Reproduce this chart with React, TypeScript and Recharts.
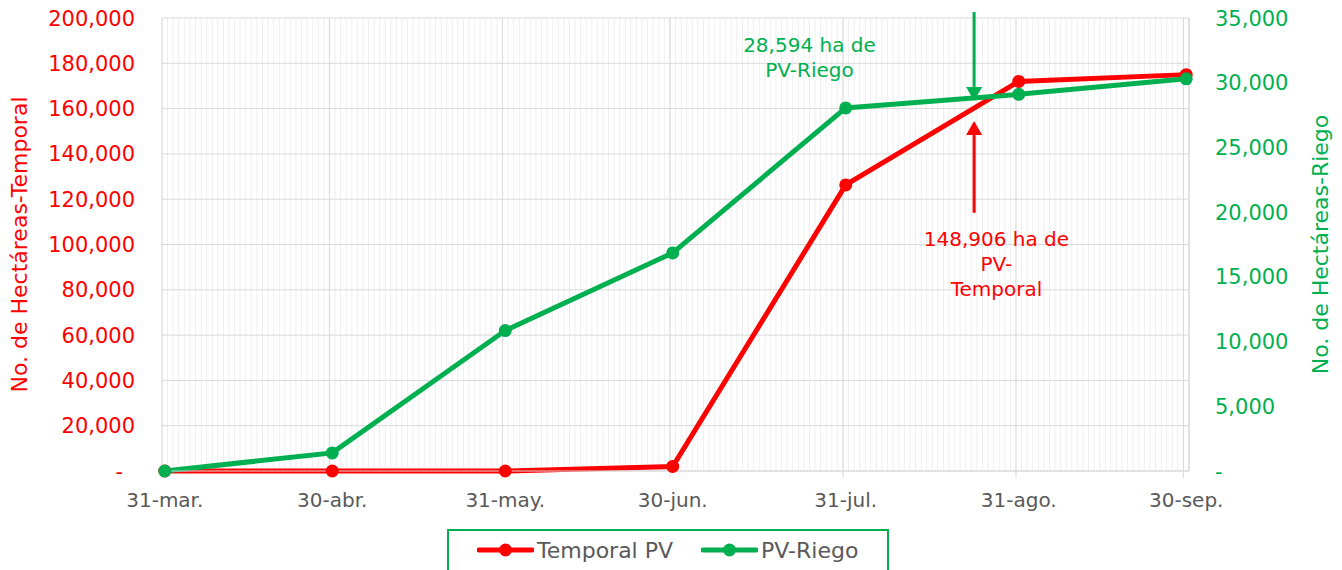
import { LineChart, Line, XAxis, YAxis, CartesianGrid, Legend, ReferenceLine, ReferenceDot } from 'recharts'

// days counted from 31-mar
const dayIdx = [0, 30, 61, 91, 122, 153, 183]
const dateLabels = ['31-mar.', '30-abr.', '31-may.', '30-jun.', '31-jul.', '31-ago.', '30-sep.']
const temporal = [0, 0, 0, 2000, 126300, 172000, 175000]
const riego = [0, 1400, 10850, 16850, 28050, 29100, 30300]

const leftTicks = [0, 20000, 40000, 60000, 80000, 100000, 120000, 140000, 160000, 180000, 200000]
const rightTicks = [0, 5000, 10000, 15000, 20000, 25000, 30000, 35000]

// crossing annotation
const arrowDay = 145
const riegoNote = ['28,594 ha de', 'PV-Riego']
const temporalNote = ['148,906 ha de', 'PV-', 'Temporal']

const RED = '#ff0000'
const GREEN = '#00b050'
const GRAY = '#595959'
const FONT = 'DejaVu Sans'

const data = dayIdx.map((d, i) => ({ day: d, temporal: temporal[i], riego: riego[i] }))
const minorTicks = Array.from({ length: 185 }, (_, i) => i - 0.5)
const majorTicks = dayIdx.map((d) => d - 0.5)

const fmt = (v: number) => (v === 0 ? '-' : v.toLocaleString('en-US'))

function XTick({ x, y, payload }: any) {
  const i = majorTicks.indexOf(payload.value)
  return (
    <text x={x + 2.8} y={y + 27} textAnchor="middle" fill={GRAY} fontSize={20} fontFamily={FONT}>
      {dateLabels[i]}
    </text>
  )
}

function LeftTick({ x, y, payload }: any) {
  return (
    <text x={x - (payload.value === 0 ? 12 : 0)} y={y} dy="0.36em" textAnchor="end" fill={RED} fontSize={21} fontFamily={FONT}>
      {fmt(payload.value)}
    </text>
  )
}

function RightTick({ x, y, payload }: any) {
  return (
    <text x={x} y={y} dy="0.36em" textAnchor="start" fill={GREEN} fontSize={21} fontFamily={FONT}>
      {fmt(payload.value)}
    </text>
  )
}

function axisTitle(text: string, color: string, dx: number) {
  return ({ viewBox }: any) => {
    const cx = viewBox.x + dx
    const cy = viewBox.y + viewBox.height / 2
    return (
      <text x={cx} y={cy} transform={`rotate(-90, ${cx}, ${cy})`} textAnchor="middle" dy="0.36em" fill={color} fontSize={22} fontFamily={FONT}>
        {text}
      </text>
    )
  }
}

function arrow(color: string) {
  return (p: any) => {
    const { x1, y1, x2, y2 } = p
    const dir = y2 > y1 ? 1 : -1
    const head = 14
    return (
      <g>
        <line x1={x1} y1={y1} x2={x2} y2={y2 - dir * head} stroke={color} strokeWidth={3} />
        <polygon points={`${x2 - 8},${y2 - dir * head} ${x2 + 8},${y2 - dir * head} ${x2},${y2}`} fill={color} />
      </g>
    )
  }
}

function note(lines: string[], color: string) {
  return (p: any) => (
    <text x={p.cx} y={p.cy} textAnchor="middle" fill={color} fontSize={20} fontFamily={FONT}>
      {lines.map((l, i) => (
        <tspan key={i} x={p.cx} dy={i === 0 ? 0 : 25}>
          {l}
        </tspan>
      ))}
    </text>
  )
}

function LegendBox() {
  const item = (color: string, label: string) => (
    <div style={{ display: 'flex', alignItems: 'center' }}>
      <svg width={57} height={14}>
        <line x1={2} y1={7} x2={55} y2={7} stroke={color} strokeWidth={5} strokeLinecap="round" />
        <circle cx={28.5} cy={7} r={6.5} fill={color} />
      </svg>
      <span style={{ marginLeft: 3, color: GRAY, fontSize: 22, fontFamily: FONT }}>{label}</span>
    </div>
  )
  return (
    <div
      style={{
        boxSizing: 'border-box',
        width: 442,
        height: 50,
        border: `2px solid ${GREEN}`,
        display: 'flex',
        alignItems: 'center',
        paddingLeft: 28,
        paddingBottom: 8,
        gap: 28,
      }}
    >
      {item(RED, 'Temporal PV')}
      {item(GREEN, 'PV-Riego')}
    </div>
  )
}

export default function App() {
  return (
    <div style={{ width: 1342, height: 570, overflow: 'hidden' }}>
      <style>{`body{margin:0}`}</style>
      <LineChart width={1342} height={570} data={data} margin={{ top: 18, right: 0, bottom: 0, left: 0 }} style={{ fontFamily: FONT }}>
        <XAxis xAxisId="minor" type="number" dataKey="day" domain={[-0.5, 183.5]} ticks={minorTicks} interval={0} hide />
        <XAxis
          xAxisId="main"
          type="number"
          dataKey="day"
          domain={[-0.5, 183.5]}
          ticks={majorTicks}
          interval={0}
          height={99}
          tick={<XTick />}
          tickSize={7}
          tickLine={{ stroke: '#d9d9d9' }}
          axisLine={{ stroke: '#d9d9d9' }}
        />
        <YAxis
          yAxisId="left"
          domain={[0, 200000]}
          ticks={leftTicks}
          interval={0}
          width={162}
          axisLine={false}
          tickLine={false}
          tickSize={0}
          tickMargin={27}
          tick={<LeftTick />}
          label={{ content: axisTitle('No. de Hectáreas-Temporal', RED, 19) }}
        />
        <YAxis
          yAxisId="right"
          orientation="right"
          domain={[0, 35000]}
          ticks={rightTicks}
          interval={0}
          width={153}
          axisLine={false}
          tickLine={false}
          tickSize={0}
          tickMargin={26}
          tick={<RightTick />}
          label={{ content: axisTitle('No. de Hectáreas-Riego', GREEN, 131) }}
        />
        <CartesianGrid xAxisId="minor" yAxisId="left" horizontal={false} stroke="#efefef" strokeWidth={1} />
        <CartesianGrid xAxisId="main" yAxisId="left" stroke="#d9d9d9" strokeWidth={1} />
        <ReferenceLine xAxisId="main" yAxisId="left" x={183.5} stroke="#d9d9d9" />
        <Line
          xAxisId="main"
          yAxisId="left"
          dataKey="temporal"
          name="Temporal PV"
          stroke={RED}
          strokeWidth={5}
          dot={{ r: 6.5, fill: RED, stroke: RED, strokeWidth: 0 }}
          isAnimationActive={false}
        />
        <Line
          xAxisId="main"
          yAxisId="right"
          dataKey="riego"
          name="PV-Riego"
          stroke={GREEN}
          strokeWidth={5}
          dot={{ r: 6.5, fill: GREEN, stroke: GREEN, strokeWidth: 0 }}
          isAnimationActive={false}
        />
        <ReferenceLine
          xAxisId="main"
          yAxisId="right"
          ifOverflow="visible"
          segment={[
            { x: arrowDay, y: 35460 },
            { x: arrowDay, y: 28594 },
          ]}
          shape={arrow(GREEN)}
        />
        <ReferenceLine
          xAxisId="main"
          yAxisId="left"
          ifOverflow="visible"
          segment={[
            { x: arrowDay, y: 114000 },
            { x: arrowDay, y: 154500 },
          ]}
          shape={arrow(RED)}
        />
        <ReferenceDot xAxisId="main" yAxisId="right" x={115.5} y={32400} r={0} ifOverflow="visible" shape={note(riegoNote, GREEN)} />
        <ReferenceDot xAxisId="main" yAxisId="left" x={149} y={99500} r={0} ifOverflow="visible" shape={note(temporalNote, RED)} />
        <Legend
          layout="horizontal"
          verticalAlign="middle"
          content={<LegendBox />}
          wrapperStyle={{ left: 447, top: 529, width: 442, height: 50 }}
        />
      </LineChart>
    </div>
  )
}
